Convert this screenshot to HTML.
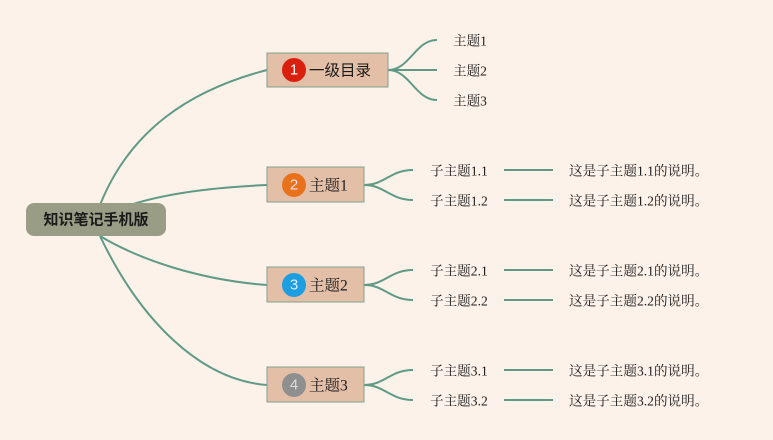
<!DOCTYPE html>
<html><head><meta charset="utf-8"><style>
body{margin:0;width:773px;height:440px;background:#fdf2e9;overflow:hidden;font-family:"Liberation Serif","Noto Serif CJK SC","Noto Sans CJK SC",serif;}
svg{position:absolute;left:0;top:0}
text{font-size:13.6px;fill:#1a1a1a;dominant-baseline:central}
</style></head><body>
<svg width="773" height="440" xmlns="http://www.w3.org/2000/svg">
<g fill="none" stroke="#5f9a86" stroke-width="2">
<path d="M100 205 C130 130,190 90,267 70"/>
<path d="M130 205 C170 192,220 187,267 185"/>
<path d="M100 236 C140 260,200 280,267 285"/>
<path d="M100 236 C140 320,200 380,267 385"/>
<path d="M388 70 C410 70,415 40,437 40"/><path d="M388 70 L437 70"/><path d="M388 70 C410 70,415 100,437 100"/>
<g id="b"><path d="M364 185 C385 185,390 170,413 170"/><path d="M364 185 C385 185,390 200,413 200"/><path d="M504 170 H553"/><path d="M504 200 H553"/></g>
<use href="#b" y="100"/><use href="#b" y="200"/>
</g>
<rect x="26" y="203" width="140" height="33" rx="8" fill="#9a9d86"/>
<text x="96" y="220" text-anchor="middle" style="font-size:15px;font-weight:bold;font-family:'Liberation Sans','Noto Sans CJK SC',sans-serif">知识笔记手机版</text>
<g stroke="#7fa08e" fill="#e3bfa8"><rect x="267" y="53" width="121" height="34"/><rect x="267" y="167" width="97" height="35"/><rect x="267" y="267" width="97" height="35"/><rect x="267" y="367" width="97" height="35"/></g>
<circle cx="294" cy="70" r="12" fill="#d9200f"/><circle cx="294" cy="185" r="12" fill="#e8721c"/><circle cx="294" cy="285" r="12" fill="#1d9ee0"/><circle cx="294" cy="385" r="12" fill="#8f8f8f"/>
<g style="font-family:'Liberation Sans',sans-serif;font-size:15px" text-anchor="middle"><text x="294" y="70" style="fill:#fff;font-size:15px">1</text><text x="294" y="185" style="fill:#fde;font-size:15px">2</text><text x="294" y="285" style="fill:#def;font-size:15px">3</text><text x="294" y="385" style="fill:#ddd;font-size:15px">4</text></g>
<g><text x="309" y="71" style="font-size:15.5px;font-family:'Liberation Sans','Noto Sans CJK SC',sans-serif">一级目录</text>
<text x="309" y="186" style="font-size:15.5px">主题1</text><text x="309" y="286" style="font-size:15.5px">主题2</text><text x="309" y="386" style="font-size:15.5px">主题3</text></g>
<text x="453" y="41">主题1</text><text x="453" y="71">主题2</text><text x="453" y="101">主题3</text>
<text x="430" y="171">子主题1.1</text><text x="430" y="201">子主题1.2</text>
<text x="430" y="271">子主题2.1</text><text x="430" y="301">子主题2.2</text>
<text x="430" y="371">子主题3.1</text><text x="430" y="401">子主题3.2</text>
<text x="569" y="171">这是子主题1.1的说明。</text><text x="569" y="201">这是子主题1.2的说明。</text>
<text x="569" y="271">这是子主题2.1的说明。</text><text x="569" y="301">这是子主题2.2的说明。</text>
<text x="569" y="371">这是子主题3.1的说明。</text><text x="569" y="401">这是子主题3.2的说明。</text>
</svg>
</body></html>
